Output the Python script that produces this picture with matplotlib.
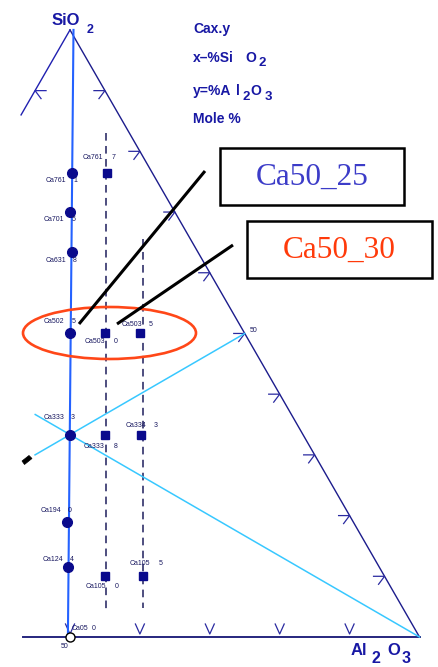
import numpy as np
import matplotlib
matplotlib.use("Agg")
import matplotlib.pyplot as plt
from matplotlib.patches import Ellipse, Rectangle, Polygon

W, H = 439, 667

# Glass compositions, mole % (Al2O3, SiO2); CaO is the balance
al_eq = [12, 15, 18.5, 25, 33.3, 40, 44]
si_eq = [76.5, 70, 63.5, 50, 33.3, 19, 11.5]
names_eq = ["Ca761", "Ca701", "Ca631", "Ca502", "Ca333", "Ca194", "Ca124"]
tags_eq = ["1", "5", "8", "5", "3", "0", "4"]

al_10 = [17, 30, 38.3, 50]
si_10 = [76.5, 50, 33.3, 10]
names_10 = ["Ca761", "Ca503", "Ca333", "Ca105"]
tags_10 = ["7", "0", "8", "0"]

al_20 = [35, 43.5, 55.5]
si_20 = [50, 33.3, 10]
names_20 = ["Ca503", "Ca334", "Ca105"]
tags_20 = ["5", "3", "5"]

al_end, si_end = [50], [0]
name_end, tag_end = "Ca05", "0"

# Al2O3 - CaO excess along the dashed joins
excess_lines = [10.2, 21.0]
grid_vals = [10, 20, 30, 40, 50, 60, 70, 80, 90]

# ---- geometry -------------------------------------------------------------
PX0, KX = -279.5, 6.99   # pixel x = PX0 + KX * X
PY0, KY = 637.0, 7.01    # pixel y = PY0 - KY * Y


def tern(al, si):
    al = np.asarray(al, float)
    si = np.asarray(si, float)
    return al + si / 2.0, si * np.sqrt(3) / 2.0


def shift(X, Y, dxp, dyp):
    return X + dxp / KX, Y - dyp / KY


fig = plt.figure(figsize=(W / 100, H / 100), dpi=100)
ax = fig.add_axes([0, 0, 1, 1])
ax.set_xlim((0 - PX0) / KX, (W - PX0) / KX)
ax.set_ylim((PY0 - H) / KY, PY0 / KY)
ax.axis("off")

NAVY = "#1c1c8c"
MARK = "#0a0a8c"
LBL = "#181860"

# triangle edges
Xa, Ya = tern(0, 100)
Xb, Yb = tern(100, 0)
ax.plot([Xa, Xb], [Ya, Yb], color=NAVY, lw=1.0, zorder=2)
Xl, Yl = tern(0, 86)
ax.plot([Xa, Xl], [Ya, Yl], color="#2020b0", lw=1.0, zorder=2)
x_left = (23 - PX0) / KX
ax.plot([x_left, Xb], [0, 0], color="#26267e", lw=1.4, zorder=2)

# direction ticks on the SiO2-Al2O3 edge
for s in grid_vals:
    X, Y = tern(100 - s, s)
    xh, yh = shift(X, Y, -11, 0)
    xd, yd = shift(X, Y, -6, 8)
    ax.plot([xh, X, xd], [yh, Y, yd], color="#2a2aa0", lw=0.9, zorder=2)

# tick on the visible part of the CaO-SiO2 edge
X, Y = tern(0, 90)
xh, yh = shift(X, Y, 11, 0)
xd, yd = shift(X, Y, 6, 8)
ax.plot([xh, X, xd], [yh, Y, yd], color="#2a2ab0", lw=0.9, zorder=2)

# ticks on the base
for a in [50, 60, 70, 80, 90]:
    X, Y = tern(a, 0)
    x1, y1 = shift(X, Y, -4.5, -13)
    x2, y2 = shift(X, Y, 0, -3)
    x3, y3 = shift(X, Y, 4.5, -13)
    ax.plot([x1, x2, x3], [y1, y2, y3], color="#2a2aa0", lw=0.9, zorder=2)

# CaO/Al2O3 = 1 join
Xm, Ym = tern(50, 0)
ax.plot([Xa + 0.5, Xm - 0.3], [Ya, Ym], color="#2462ff", lw=1.5, zorder=3)

# dashed joins of constant Al2O3 excess
for e, (s_top, s_bot) in zip(excess_lines, [(83, 4), (65.5, 4.8)]):
    a_top = (100 - s_top + e) / 2
    a_bot = (100 - s_bot + e) / 2
    xs, ys = tern([a_top, a_bot], [s_top, s_bot])
    ax.plot(xs, ys, color="#1e1e5c", lw=1.1, dashes=(5, 3.5), zorder=2)

# cyan construction lines through Ca33_33
xs, ys = tern([26.7, 100], [36.65, 0])
ax.plot(xs, ys, color="#38c8ff", lw=1.1, zorder=2)
xs, ys = tern([30, 50], [30, 50])
ax.plot(xs, ys, color="#38c8ff", lw=1.1, zorder=2)

# composition points
xe, ye = tern(al_eq, si_eq)
ax.plot(xe, ye, "o", ms=7.0, color=MARK, zorder=5)
x1, y1 = tern(al_10, si_10)
ax.plot(x1, y1, "s", ms=6.4, color=MARK, zorder=5)
x2, y2 = tern(al_20, si_20)
ax.plot(x2, y2, "s", ms=6.4, color=MARK, zorder=5)
x0, y0 = tern(al_end, si_end)
ax.plot(x0, y0, "o", ms=6.5, mfc="white", mec="black", mew=1.0, zorder=6)


def label(X, Y, name, tag, ndx, tdx, dy, name_ha="right"):
    kw = dict(textcoords="offset pixels", va="center", fontsize=5.0,
              color=LBL, family="Liberation Sans", zorder=7)
    ax.annotate(name, (X, Y), xytext=(ndx, -dy), ha=name_ha, **kw)
    ax.annotate(tag, (X, Y), xytext=(tdx, -dy), ha="left", **kw)


for X, Y, n, t, dy in zip(xe, ye, names_eq, tags_eq, [7.5, 7.5, 9, -12, -17, -11, -8]):
    label(X, Y, n, t, -5.5, 1.5, dy)
for X, Y, n, t, ndx, tdx, dy in zip(x1, y1, names_10, tags_10,
                                     [-3.5, 0, 0, 1], [5, 8.5, 9, 9.5], [-15, 8.5, 12, 10]):
    label(X, Y, n, t, ndx, tdx, dy)
for X, Y, n, t, ndx, tdx, dy in zip(x2, y2, names_20, tags_20,
                                     [2, 5, 6.5], [8.5, 12.5, 15], [-8.5, -9, -13]):
    label(X, Y, n, t, ndx, tdx, dy)
label(x0[0], y0[0], name_end, tag_end, 2, 21.5, -8, name_ha="left")

# ---- overlay in pixel units ------------------------------------------------
ov = fig.add_axes([0, 0, 1, 1])
ov.set_xlim(0, W)
ov.set_ylim(H, 0)
ov.axis("off")
ov.patch.set_alpha(0)

BOLD = dict(family="Liberation Sans", weight="bold", color="#1818a4")
ov.text(52, 25, "SiO", fontsize=12, va="baseline", ha="left", **BOLD)
ov.text(87, 33, "2", fontsize=9, va="baseline", ha="left", **BOLD)

ov.text(193, 33, "Cax.y", fontsize=10, va="baseline", ha="left", **BOLD)
ov.text(193, 61.5, "x\u2013%Si", fontsize=10, va="baseline", ha="left", **BOLD)
ov.text(245, 61.5, "O", fontsize=10, va="baseline", ha="left", **BOLD)
ov.text(259, 65.5, "2", fontsize=9.5, va="baseline", ha="left", **BOLD)
ov.text(193, 95, "y=%A", fontsize=10, va="baseline", ha="left", **BOLD)
ov.text(236, 95, "l", fontsize=10, va="baseline", ha="left", **BOLD)
ov.text(243, 100, "2", fontsize=9.5, va="baseline", ha="left", **BOLD)
ov.text(250, 95, "O", fontsize=10, va="baseline", ha="left", **BOLD)
ov.text(265, 100, "3", fontsize=9.5, va="baseline", ha="left", **BOLD)
ov.text(193, 123, "Mole %", fontsize=10, va="baseline", ha="left", **BOLD)

ov.text(351, 655, "Al", fontsize=12, va="baseline", ha="left", **BOLD)
ov.text(372, 663, "2", fontsize=11.5, va="baseline", ha="left", **BOLD)
ov.text(387, 655, "O", fontsize=12, va="baseline", ha="left", **BOLD)
ov.text(402, 663, "3", fontsize=11.5, va="baseline", ha="left", **BOLD)

SMALL = dict(family="Liberation Sans", fontsize=5.0, color=LBL, va="center", ha="left")
ov.text(250, 331, "50", **SMALL)
ov.text(61, 647, "50", **SMALL)

# highlighted pair
ov.add_patch(Ellipse((109.5, 333), 173, 52, fill=False, ec="#ff4718", lw=1.9, zorder=8))
ov.plot([205, 79], [171, 324], color="black", lw=2.2, solid_capstyle="butt", zorder=8)
ov.plot([233, 117], [245, 324], color="black", lw=2.2, solid_capstyle="butt", zorder=8)
ov.add_patch(Rectangle((220, 148), 184, 57, fill=False, ec="black", lw=1.8, zorder=8))
ov.add_patch(Rectangle((247, 221), 185, 57, fill=False, ec="black", lw=1.8, zorder=8))
ov.text(312, 177.5, "Ca50_25", family="Liberation Serif", fontsize=22.5,
        color="#3c3cc8", ha="center", va="center", zorder=9)
ov.text(339.5, 250, "Ca50_30", family="Liberation Serif", fontsize=22.5,
        color="#ff3a0a", ha="center", va="center", zorder=9)

# arrow tip at the left margin
ov.add_patch(Polygon([(22, 461), (29, 455.5), (32, 458.5), (24.5, 464.5)],
                     closed=True, fc="black", ec="black", lw=0.5, zorder=8))

fig.savefig("out.png", dpi=100)
